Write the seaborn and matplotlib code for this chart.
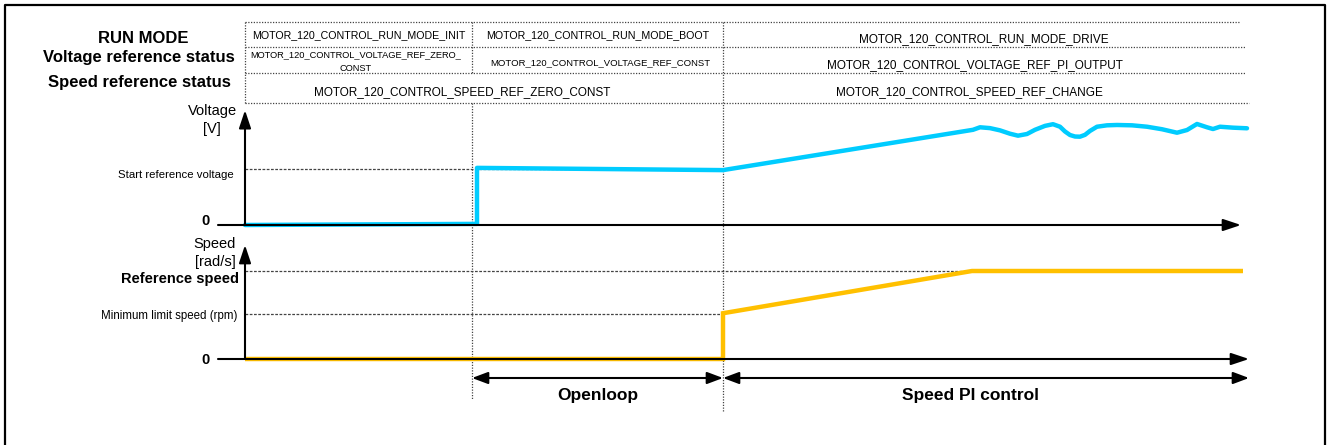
import matplotlib
matplotlib.use("Agg")
import matplotlib.pyplot as plt
import seaborn as sns
import pandas as pd

sns.set_theme(style="white")
plt.rcParams['font.family'] = ['Liberation Sans', 'DejaVu Sans']
plt.rcParams['text.color'] = 'black'

# ---------------- data ----------------
run_mode = ["MOTOR_120_CONTROL_RUN_MODE_INIT",
            "MOTOR_120_CONTROL_RUN_MODE_BOOT",
            "MOTOR_120_CONTROL_RUN_MODE_DRIVE"]
voltage_status = ["MOTOR_120_CONTROL_VOLTAGE_REF_ZERO_\nCONST",
                  "MOTOR_120_CONTROL_VOLTAGE_REF_CONST",
                  "MOTOR_120_CONTROL_VOLTAGE_REF_PI_OUTPUT"]
speed_status = ["MOTOR_120_CONTROL_SPEED_REF_ZERO_CONST",
                "MOTOR_120_CONTROL_SPEED_REF_CHANGE"]
row_labels = ["RUN MODE", "Voltage reference status", "Speed reference status"]
phase_labels = ["Openloop", "Speed PI control"]

# phase boundaries (time, arbitrary units)
t_boot = 2.27
t_drive = 4.78
t_end = 10.0
t_axis_end_v = 9.96
t_axis_end_s = 10.04

# voltage trace
volt_t = [0.0, 2.32, 2.32, 4.78, 7.28, 7.35, 7.45, 7.55, 7.65, 7.73, 7.82, 7.90, 8.00,
          8.08, 8.15, 8.20, 8.25, 8.30, 8.35, 8.40, 8.45, 8.52, 8.62, 8.72, 8.87,
          9.02, 9.17, 9.32, 9.42, 9.52, 9.62, 9.68, 9.75, 9.88, 10.02]
volt_v = [0.0, 0.02, 1.02, 0.98, 1.70, 1.745, 1.73, 1.69, 1.63, 1.595, 1.625, 1.70, 1.77,
          1.80, 1.755, 1.67, 1.607, 1.58, 1.577, 1.61, 1.68, 1.755, 1.78, 1.786, 1.78,
          1.755, 1.71, 1.648, 1.696, 1.804, 1.745, 1.714, 1.755, 1.738, 1.727]
start_ref_voltage = 1.0
volt_axis_top = 2.05

# speed trace
speed_t = [0.0, 4.78, 4.78, 7.27, 9.98]
speed_v = [0.0, 0.0, 0.52, 1.0, 1.0]
reference_speed = 1.0
min_limit_speed = 0.511
speed_axis_top = 1.295

# ---------------- figure ----------------
W, H, DPI = 1328, 445, 100
fig = plt.figure(figsize=(W / DPI, H / DPI), dpi=DPI)
fig.patch.set_facecolor("white")

X0_PX, PX_PER_T = 245, 100.0
xlim = (-X0_PX / PX_PER_T, (W - X0_PX) / PX_PER_T)

V0_PX, V_PX = 225, 56.0
S0_PX, S_PX = 359, 88.0
vlim = ((V0_PX - H) / V_PX, V0_PX / V_PX)
slim = ((S0_PX - H) / S_PX, S0_PX / S_PX)

def full_ax(ylim):
    ax = fig.add_axes([0, 0, 1, 1])
    ax.set_xlim(*xlim)
    ax.set_ylim(*ylim)
    ax.axis("off")
    ax.patch.set_alpha(0)
    return ax

pix = full_ax((H, 0))
axv = full_ax(vlim)
axs = full_ax(slim)

def X(px):
    return (px - X0_PX) / PX_PER_T

dot = dict(color="#444444", lw=0.9, ls=(0, (1, 1.2)))
dash = dict(color="#444444", lw=0.9, ls=(0, (2.2, 1.2)))

# border
pix.plot([X(5), X(5)], [H, 4.5], color="black", lw=1.6, solid_capstyle="butt")
pix.plot([X(5), X(1325.5)], [4.5, 4.5], color="black", lw=1.6)
pix.plot([X(1325.5), X(1325.5)], [4.5, H], color="black", lw=1.6, solid_capstyle="butt")

# table
pix.plot([0, X(1240)], [22, 22], **dot)
pix.plot([0, X(1245)], [47, 47], **dot)
pix.plot([0, X(1245)], [73, 73], **dot)
pix.plot([0, X(1249)], [103, 103], **dot)
pix.plot([0, 0], [22, 103], **dot)
pix.plot([t_boot, t_boot], [22, 73], **dot)
pix.plot([t_boot, t_boot], [103, 400], **dot)
pix.plot([t_drive, t_drive], [22, 412], **dot)

c1 = t_boot / 2
c2 = (t_boot + t_drive) / 2
c3 = (t_drive + t_end) / 2
pix.text(c1, 38.5, run_mode[0], ha="center", va="baseline", fontsize=7.7)
pix.text(c2, 38.5, run_mode[1], ha="center", va="baseline", fontsize=7.7)
pix.text(c3, 42, run_mode[2], ha="center", va="baseline", fontsize=8.5)
pix.text(X(250), 57.5, voltage_status[0].split("\n")[0], ha="left", va="baseline", fontsize=6.7)
pix.text(X(356), 71, voltage_status[0].split("\n")[1], ha="center", va="baseline", fontsize=6.7)
pix.text(X(600), 65, voltage_status[1], ha="center", va="baseline", fontsize=6.8)
pix.text(X(975), 68, voltage_status[2], ha="center", va="baseline", fontsize=8.5)
pix.text(X(462), 95, speed_status[0], ha="center", va="baseline", fontsize=8.5)
pix.text(X(969), 95, speed_status[1], ha="center", va="baseline", fontsize=8.5)

# row labels
pix.text(X(143), 43.3, row_labels[0], ha="center", va="baseline", fontsize=12, fontweight="bold")
pix.text(X(139), 61.7, row_labels[1], ha="center", va="baseline", fontsize=12, fontweight="bold")
pix.text(X(139), 86.5, row_labels[2], ha="center", va="baseline", fontsize=12, fontweight="bold")

# axis labels
pix.text(X(212), 115, "Voltage", ha="center", va="baseline", fontsize=10.5)
pix.text(X(212), 133, "[V]", ha="center", va="baseline", fontsize=10.5)
pix.text(X(234), 178, "Start reference voltage", ha="right", va="baseline", fontsize=8.2)
pix.text(X(205), 221, "0", ha="center", va="center", fontsize=10.5, fontweight="bold")
pix.text(X(215), 248, "Speed", ha="center", va="baseline", fontsize=10.5)
pix.text(X(215), 266, "[rad/s]", ha="center", va="baseline", fontsize=10.5)
pix.text(X(239), 283, "Reference speed", ha="right", va="baseline", fontsize=10.5, fontweight="bold")
pix.text(X(237), 318.5, "Minimum limit speed (rpm)", ha="right", va="baseline", fontsize=8.3)
pix.text(X(205), 359.5, "0", ha="center", va="center", fontsize=10.5, fontweight="bold")

# reference level lines
axv.plot([0, t_drive], [start_ref_voltage, start_ref_voltage], **dash)
axs.plot([0, 9.98], [reference_speed, reference_speed], **dash)
axs.plot([0, t_drive], [min_limit_speed, min_limit_speed], **dash)

# axes with arrows
arr = dict(arrowstyle="-|>,head_length=0.9,head_width=0.3", color="black", lw=1.5,
           shrinkA=0, shrinkB=0, mutation_scale=12)
axv.annotate("", xy=(t_axis_end_v, 0), xytext=(X(218), 0), arrowprops=arr)
axv.annotate("", xy=(0, volt_axis_top), xytext=(0, 0), arrowprops=arr)
axs.annotate("", xy=(t_axis_end_s, 0), xytext=(X(218), 0), arrowprops=arr)
axs.annotate("", xy=(0, speed_axis_top), xytext=(0, 0), arrowprops=arr)

# traces
dfv = pd.DataFrame({"t": volt_t, "v": volt_v})
dfs = pd.DataFrame({"t": speed_t, "s": speed_v})
sns.lineplot(data=dfv, x="t", y="v", ax=axv, color="#00CCFF", lw=3.2,
             estimator=None, sort=False, legend=False, solid_joinstyle="round",
             solid_capstyle="round")
sns.lineplot(data=dfs, x="t", y="s", ax=axs, color="#FFC000", lw=3.2,
             estimator=None, sort=False, legend=False, solid_joinstyle="miter",
             solid_capstyle="butt")
for a, lim in ((axv, vlim), (axs, slim)):
    a.set_xlim(*xlim)
    a.set_ylim(*lim)
    a.axis("off")

# phase arrows
darr = dict(arrowstyle="<|-|>,head_length=0.8,head_width=0.3", color="black", lw=1.5,
            shrinkA=0, shrinkB=0, mutation_scale=12)
pix.annotate("", xy=(t_drive, 378), xytext=(t_boot, 378), arrowprops=darr)
pix.annotate("", xy=(t_axis_end_s, 378), xytext=(t_drive, 378), arrowprops=darr)
pix.text(X(598), 400, phase_labels[0], ha="center", va="baseline", fontsize=12.5, fontweight="bold")
pix.text(X(971), 400, phase_labels[1], ha="center", va="baseline", fontsize=12.5, fontweight="bold")

fig.savefig("out.png", dpi=DPI, facecolor="white")
